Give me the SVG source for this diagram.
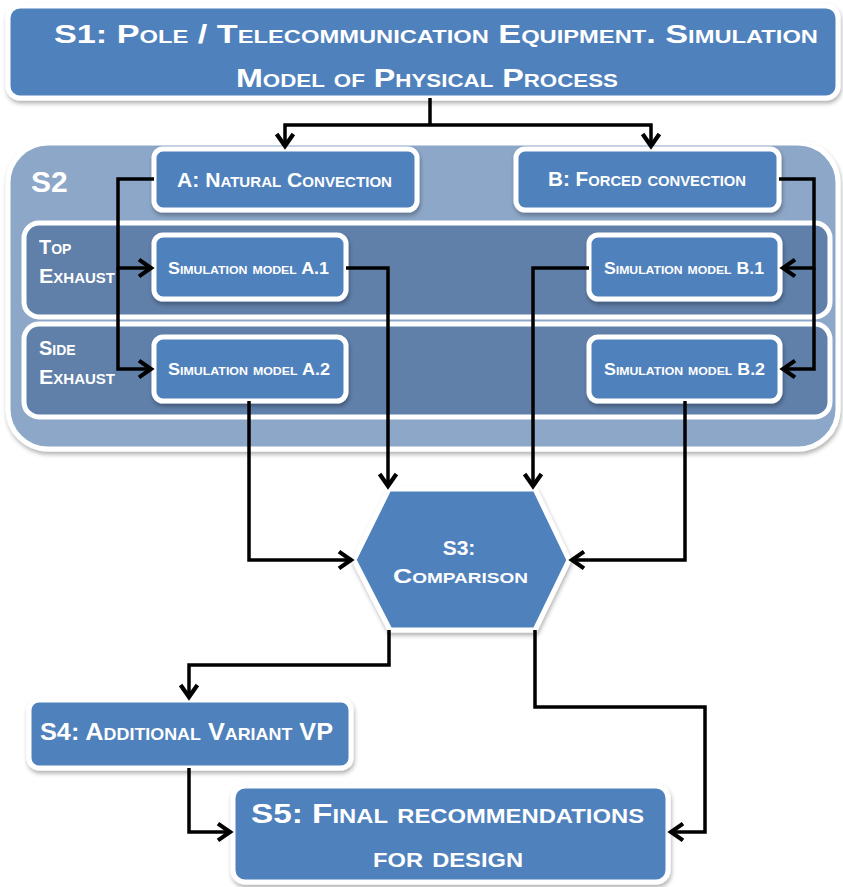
<svg xmlns="http://www.w3.org/2000/svg" width="843" height="887" viewBox="0 0 843 887">
<style>
.box{fill:#4F81BD;stroke:#fff;stroke-width:5;filter:url(#sh)}
.cont{fill:#8DA7C8;stroke:#fff;stroke-width:5;filter:url(#sh)}
.band{fill:#6080AA;stroke:#fff;stroke-width:5}
.t{font-family:"Liberation Sans",Arial,sans-serif;font-weight:bold;font-variant:small-caps;fill:#fff}
.c{text-anchor:middle}
.ln{fill:none;stroke:#000;stroke-width:3.5;stroke-linejoin:miter}
.ar{marker-end:url(#ah)}
</style>
<defs>
<filter id="sh" x="-10%" y="-10%" width="120%" height="130%"><feDropShadow dx="1" dy="3" stdDeviation="2" flood-color="#000" flood-opacity="0.3"/></filter>
<marker id="ah" markerUnits="userSpaceOnUse" markerWidth="24" markerHeight="24" viewBox="-14 -10 18 20" refX="0" refY="0" orient="auto">
<path d="M-10,-7 L0,0 L-10,7" fill="none" stroke="#000" stroke-width="3.5"/>
</marker>
</defs>

<g id="S2">
<rect class="cont" x="8" y="143" width="830" height="306" rx="40"/>
<text class="t" x="31" y="192" font-size="30">S2</text>
</g>
<g id="band-top">
<rect class="band" x="24" y="223" width="806" height="94" rx="15"/>
<text class="t" x="39" y="254" font-size="20">Top</text>
<text class="t" x="39" y="283" font-size="20" textLength="76" lengthAdjust="spacingAndGlyphs">Exhaust</text>
</g>
<g id="band-side">
<rect class="band" x="24" y="324" width="806" height="93" rx="15"/>
<text class="t" x="39" y="355" font-size="20">Side</text>
<text class="t" x="39" y="384" font-size="20" textLength="76" lengthAdjust="spacingAndGlyphs">Exhaust</text>
</g>

<g id="S1">
<rect class="box" x="8" y="6" width="830" height="92" rx="12"/>
<text class="t" x="54" y="43" font-size="26" textLength="764" lengthAdjust="spacingAndGlyphs">S1: Pole / Telecommunication Equipment. Simulation</text>
<text class="t" x="236" y="87" font-size="26" textLength="382" lengthAdjust="spacingAndGlyphs">Model of Physical Process</text>
</g>

<g id="A">
<rect class="box" x="154" y="149" width="263" height="61" rx="9"/>
<text class="t" x="177" y="187" font-size="21" textLength="215" lengthAdjust="spacingAndGlyphs">A: Natural Convection</text>
</g>
<g id="B">
<rect class="box" x="516" y="149" width="263" height="61" rx="9"/>
<text class="t" x="548" y="186" font-size="21" textLength="198" lengthAdjust="spacingAndGlyphs">B: Forced convection</text>
</g>
<g id="A1">
<rect class="box" x="154" y="235" width="192" height="64" rx="9"/>
<text class="t" x="168" y="274" font-size="16" textLength="161" lengthAdjust="spacingAndGlyphs">Simulation model A.1</text>
</g>
<g id="A2">
<rect class="box" x="154" y="337" width="192" height="64" rx="9"/>
<text class="t" x="168" y="375" font-size="16" textLength="162" lengthAdjust="spacingAndGlyphs">Simulation model A.2</text>
</g>
<g id="B1">
<rect class="box" x="589" y="235" width="191" height="64" rx="9"/>
<text class="t" x="604" y="274" font-size="16" textLength="160" lengthAdjust="spacingAndGlyphs">Simulation model B.1</text>
</g>
<g id="B2">
<rect class="box" x="589" y="337" width="191" height="64" rx="9"/>
<text class="t" x="604" y="375" font-size="16" textLength="161" lengthAdjust="spacingAndGlyphs">Simulation model B.2</text>
</g>

<g id="S3">
<polygon class="box" points="389,489 535,489 569,560 535,630 390,630 354,560"/>
<text class="t c" x="459" y="555" font-size="21">S3:</text>
<text class="t" x="393" y="583" font-size="21" textLength="135" lengthAdjust="spacingAndGlyphs">Comparison</text>
</g>
<g id="S4">
<rect class="box" x="29" y="700" width="322" height="68" rx="10"/>
<text class="t" x="40" y="740" font-size="24" textLength="293" lengthAdjust="spacingAndGlyphs">S4: Additional Variant VP</text>
</g>
<g id="S5">
<rect class="box" x="233" y="786" width="435" height="96" rx="12"/>
<text class="t" x="251" y="823" font-size="28" textLength="393" lengthAdjust="spacingAndGlyphs">S5: Final recommendations</text>
<text class="t" x="373" y="867" font-size="28" textLength="150" lengthAdjust="spacingAndGlyphs">for design</text>
</g>

<g id="connectors">
<path class="ln" d="M430,98 V125"/>
<path class="ln ar" d="M430,125 H285 V146"/>
<path class="ln ar" d="M430,125 H651 V146"/>
<path class="ln ar" d="M154,179 H118 V268 H151"/>
<path class="ln ar" d="M118,268 V369 H151"/>
<path class="ln ar" d="M779,179 H814 V268 H783"/>
<path class="ln ar" d="M814,268 V369 H783"/>
<path class="ln ar" d="M346,268 H388 V486"/>
<path class="ln ar" d="M589,268 H533 V486"/>
<path class="ln ar" d="M249,401 V560 H351"/>
<path class="ln ar" d="M685,401 V560 H572"/>
<path class="ln ar" d="M389,630 V665 H189 V697"/>
<path class="ln ar" d="M535,630 V707 H705 V832 H671"/>
<path class="ln ar" d="M189,768 V832 H230"/>
</g>
</svg>
